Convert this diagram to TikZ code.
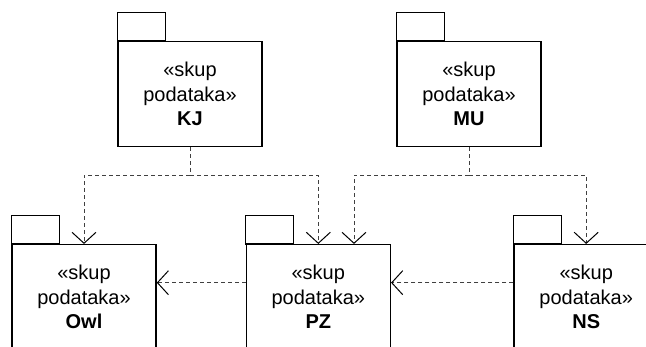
\documentclass[tikz,border=0pt]{standalone}
\usepackage{fontspec}
\setmainfont{Liberation Sans}
\usetikzlibrary{arrows.meta,calc}
\definecolor{depgray}{RGB}{64,64,64}

\begin{document}
\begin{tikzpicture}[x=1pt,y=-1pt,
	pkg/.style={draw,line width=1.5pt,minimum width=144pt,minimum height=105pt,inner sep=0pt,align=center,
		font=\fontsize{20}{24.5}\selectfont},
	dep/.style={depgray,line width=1pt,dash pattern=on 4pt off 3pt,-{Straight Barb[length=11pt,width=24pt,line width=1pt,black]}}]
	\useasboundingbox (0,0) rectangle (646,346);
	\clip (0,0) rectangle (646,346);
	% packages
	\node[pkg] (kj) at (190,94.2) {«skup\\podataka»\\\textbf{KJ}};
	\node[pkg] (mu) at (469,94.2) {«skup\\podataka»\\\textbf{MU}};
	\node[pkg] (owl) at (84,297.2) {«skup\\podataka»\\\textbf{Owl}};
	\node[pkg] (pz) at (318.3,297.2) {«skup\\podataka»\\\textbf{PZ}};
	\node[pkg] (ns) at (586.2,297.2) {«skup\\podataka»\\\textbf{NS}};
	\foreach \p in {kj,mu,owl,pz,ns}
		\draw[line width=1.5pt] (\p.north west) rectangle ++(48,-28.4);
	% dependencies
	\draw[dep] (kj.south) -- ++(0,27.6) -| (owl.north);
	\draw[dep] (kj.south) -- ++(0,27.6) -| (pz.north);
	\draw[dep] (mu.south) -- ++(0,27.6) -| ([xshift=35.7pt]pz.north);
	\draw[dep] (mu.south) -- ++(0,27.6) -| (ns.north);
	\draw[dep] ([yshift=14.5pt]pz.west) -- ([yshift=14.5pt]owl.east);
	\draw[dep] ([yshift=14.5pt]ns.west) -- ([yshift=14.5pt]pz.east);
\end{tikzpicture}
\end{document}
